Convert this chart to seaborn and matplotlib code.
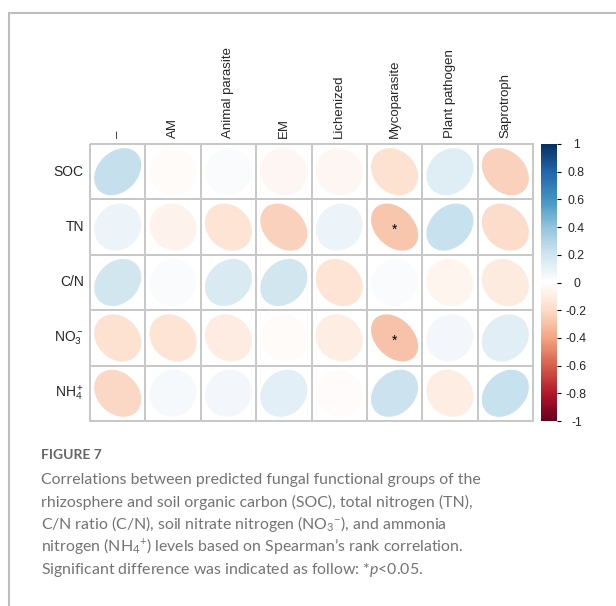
import numpy as np
import pandas as pd
import matplotlib
matplotlib.use('Agg')
import matplotlib.pyplot as plt
import seaborn as sns
from matplotlib.colors import LinearSegmentedColormap, ListedColormap, Normalize
from matplotlib.patches import Ellipse
from matplotlib.lines import Line2D
from matplotlib.cm import ScalarMappable

# fungal functional groups (columns) and soil properties (rows)
groups = ['–', 'AM', 'Animal parasite', 'EM', 'Lichenized',
          'Mycoparasite', 'Plant pathogen', 'Saprotroph']
soil = ['SOC', 'TN', 'C/N', r'NO$_3^-$', r'NH$_4^+$']

# Spearman rho
rho_soc = [0.28, -0.03, 0.03, -0.06, -0.06, -0.20, 0.17, -0.28]
rho_tn = [0.10, -0.08, -0.18, -0.28, 0.10, -0.33, 0.27, -0.22]
rho_cn = [0.23, 0.03, 0.20, 0.23, -0.18, 0.03, -0.07, -0.14]
rho_no3 = [-0.20, -0.18, -0.13, -0.03, -0.12, -0.35, 0.07, 0.16]
rho_nh4 = [-0.25, 0.05, 0.07, 0.15, -0.02, 0.25, -0.12, 0.27]

# significance (*p<0.05)
sig_soc = [0, 0, 0, 0, 0, 0, 0, 0]
sig_tn = [0, 0, 0, 0, 0, 1, 0, 0]
sig_cn = [0, 0, 0, 0, 0, 0, 0, 0]
sig_no3 = [0, 0, 0, 0, 0, 1, 0, 0]
sig_nh4 = [0, 0, 0, 0, 0, 0, 0, 0]

cbar_ticks = [-1, -0.8, -0.6, -0.4, -0.2, 0, 0.2, 0.4, 0.6, 0.8, 1]
cbar_labels = ['-1', '-0.8', '-0.6', '-0.4', '-0.2', '0', '0.2', '0.4', '0.6', '0.8', '1']

corr = pd.DataFrame([rho_soc, rho_tn, rho_cn, rho_no3, rho_nh4], index=soil, columns=groups)
sig = pd.DataFrame([sig_soc, sig_tn, sig_cn, sig_no3, sig_nh4], index=soil, columns=groups)

sns.set_style('white')
plt.rcParams['font.family'] = ['Liberation Sans', 'DejaVu Sans']
plt.rcParams['mathtext.fontset'] = 'custom'
plt.rcParams['mathtext.rm'] = 'Lato'
plt.rcParams['mathtext.it'] = 'Lato:italic'

# corrplot style RdBu
cmap = LinearSegmentedColormap.from_list('corrRdBu', [
    '#67001F', '#B2182B', '#D6604D', '#F4A582', '#FDDBC7', '#FFFFFF',
    '#D1E5F0', '#92C5DE', '#4393C3', '#2166AC', '#053061'])
norm = Normalize(-1, 1)

W, H = 616, 606
fig = plt.figure(figsize=(W / 100, H / 100), dpi=100)
ax = fig.add_axes([90 / W, 1 - 421 / H, 443 / W, 277 / H])
cax = fig.add_axes([541 / W, 1 - 421 / H, 16 / W, 277 / H])

# white grid of cells
sns.heatmap(corr, cmap=ListedColormap(['white']), vmin=-1, vmax=1, cbar=False,
            linewidths=1.2, linecolor='#c8c8c8', ax=ax,
            xticklabels=groups, yticklabels=soil)
ax.collections[0].set_clip_on(False)

for i in range(len(soil)):
    for j in range(len(groups)):
        r = corr.iat[i, j]
        ax.add_patch(Ellipse((j + 0.5, i + 0.5), width=0.85 * np.sqrt(1 + r),
                             height=0.85 * np.sqrt(1 - r), angle=-45,
                             facecolor=cmap(norm(r)), edgecolor='none', alpha=0.8))
        if sig.iat[i, j]:
            ax.text(j + 0.5, i + 0.55, '*', ha='center', va='center',
                    fontsize=10, color='black')

ax.xaxis.tick_top()
ax.set_xticklabels(groups, rotation=90, fontsize=9.5)
ax.set_yticklabels(soil, rotation=0, fontsize=10)
ax.tick_params(axis='x', length=0, pad=4.5)
ax.tick_params(axis='y', length=0, pad=4.5)
ax.set_xlabel('')
ax.set_ylabel('')

cb = fig.colorbar(ScalarMappable(norm=norm, cmap=cmap), cax=cax, ticks=cbar_ticks)
cb.outline.set_visible(False)
cb.ax.set_yticklabels(cbar_labels)
cax.tick_params(axis='y', length=3, width=0.8, pad=11, labelsize=8.8, color='black')
for t in cax.get_yticklabels():
    t.set_horizontalalignment('center')

# frame of the figure panel
fig.add_artist(Line2D([8.5 / W, 8.5 / W], [-0.01, 1 - 13 / H], color='#bdbdbd', lw=1.5))
fig.add_artist(Line2D([8.5 / W, 1.01], [1 - 13 / H, 1 - 13 / H], color='#bdbdbd', lw=1.5))

# caption
fig.text(41 / W, 1 - 459 / H, 'FIGURE 7', fontsize=10, color='#666666',
         fontweight='bold', family='Lato', va='baseline')
caption = [
    'Correlations between predicted fungal functional groups of the',
    'rhizosphere and soil organic carbon (SOC), total nitrogen (TN),',
    r'C/N ratio (C/N), soil nitrate nitrogen (NO$_3{}^{-}$), and ammonia',
    r'nitrogen (NH$_4{}^{+}$) levels based on Spearman’s rank correlation.',
    r'Significant difference was indicated as follow: *$\it{p}$<0.05.',
]
for k, line in enumerate(caption):
    fig.text(41 / W, 1 - (484 + 22.5 * k) / H, line, fontsize=11.4, color='#737373',
             family='Lato', va='baseline')

fig.savefig('out.png', dpi=100)
